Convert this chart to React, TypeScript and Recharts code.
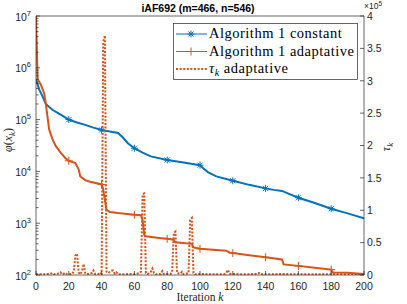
import React from 'react'
import { LineChart, Line, XAxis, YAxis, Legend } from 'recharts'

const BLUE = '#0072BD'
const ORANGE = '#D95319'
const AXIS = '#262626'
const SANS = '"Liberation Sans", Arial, sans-serif'
const SERIF = '"Liberation Serif", "Times New Roman", serif'

// iterations on the x axis
const iterTicks = [0, 20, 40, 60, 80, 100, 120, 140, 160, 180, 200]
// left axis (log) and right axis (linear, x1e5)
const phiTicks = [1e2, 1e3, 1e4, 1e5, 1e6, 1e7]
const tauTicks = [0, 50000, 100000, 150000, 200000, 250000, 300000, 350000, 400000]

// Algorithm 1 constant
const constIter = [0, 1, 2, 4, 6, 10, 14, 20, 25, 30, 35, 40, 45, 50, 53, 56, 60, 65, 70, 80, 90, 100, 102, 105, 110, 120, 130, 140, 145, 150, 155, 160, 170, 180, 190, 200]
const constPhi = [6.0e5, 4.8e5, 3.8e5, 2.8e5, 2.0e5, 1.55e5, 1.3e5, 1.0e5, 8.8e4, 7.9e4, 7.0e4, 6.3e4, 5.9e4, 5.5e4, 4.5e4, 3.5e4, 2.8e4, 2.3e4, 1.95e4, 1.66e4, 1.48e4, 1.32e4, 1.15e4, 9.6e3, 8.0e3, 6.6e3, 5.5e3, 4.7e3, 4.4e3, 4.2e3, 3.6e3, 3.1e3, 2.45e3, 1.9e3, 1.55e3, 1.25e3]

// Algorithm 1 adaptative
const adaptIter = [0, 1, 3, 5, 6, 8, 10, 12, 15, 18, 20, 24, 26, 27, 30, 33, 40, 41, 42, 43, 45, 50, 60, 64, 65, 66, 67, 75, 80, 84, 85, 95, 96, 100, 110, 116, 118, 120, 130, 140, 150, 151, 160, 170, 180, 181, 190, 200]
const adaptPhi = [1e7, 6.0e5, 4.7e5, 3.2e5, 2.0e5, 6.5e4, 4.2e4, 3.1e4, 2.3e4, 1.8e4, 1.6e4, 1.45e4, 1.1e4, 8.0e3, 6.8e3, 6.3e3, 5.6e3, 4.5e3, 2.8e3, 1.8e3, 1.65e3, 1.57e3, 1.45e3, 1.42e3, 1.15e3, 600, 560, 520, 500, 480, 430, 400, 340, 320, 305, 295, 270, 265, 240, 220, 200, 160, 150, 138, 127, 112, 110, 105]

// tau_k adaptative (right axis)
const tauIter = [0, 8, 10, 11, 14, 15, 16, 18, 19, 22, 23, 24, 25, 26, 27, 28, 29, 30, 31, 34, 35, 36, 38, 39, 40, 41, 42, 43, 44, 46, 47, 48, 49, 50, 58, 60, 63, 64, 65, 66, 67, 68, 70, 71, 72, 73, 76, 77, 78, 82, 83, 84, 85, 86, 88, 89, 90, 93, 94, 95, 96, 97, 100, 110, 115, 116, 117, 118, 125, 135, 136, 137, 150, 160, 180, 200]
const tauVal = [1000, 1500, 3000, 1000, 2500, 4000, 1000, 3500, 1000, 1500, 5000, 30000, 33000, 4000, 1000, 6000, 17000, 3000, 1000, 3000, 7000, 1500, 1500, 4000, 2000, 360000, 370000, 5000, 3000, 6500, 7000, 2000, 4000, 1000, 1500, 1000, 3000, 5000, 125000, 126000, 3000, 1500, 5000, 10000, 3000, 1000, 1500, 6000, 1500, 1500, 4000, 65000, 67000, 3000, 2000, 5000, 1000, 3000, 85000, 88000, 3000, 1000, 1500, 1000, 1500, 3000, 8000, 2000, 1000, 1500, 3000, 1000, 1500, 1000, 1000, 1000]

const constData = constIter.map((k, i) => ({ k, phi: constPhi[i] }))
const adaptData = adaptIter.map((k, i) => ({ k, phi: adaptPhi[i] }))
const tauData = tauIter.map((k, i) => ({ k, tau: tauVal[i] }))

const phiAllTicks: number[] = []
phiTicks.forEach((p) => {
  phiAllTicks.push(p)
  if (p < 1e7) for (let m = 2; m <= 9; m++) phiAllTicks.push(p * m)
})

const Star = ({ x, y, c }: { x: number; y: number; c: string }) => (
  <g stroke={c} strokeWidth={1}>
    <line x1={x - 3.5} x2={x + 3.5} y1={y} y2={y} />
    <line x1={x} x2={x} y1={y - 3.5} y2={y + 3.5} />
    <line x1={x - 2.5} x2={x + 2.5} y1={y - 2.5} y2={y + 2.5} />
    <line x1={x - 2.5} x2={x + 2.5} y1={y + 2.5} y2={y - 2.5} />
  </g>
)

const Plus = ({ x, y, c }: { x: number; y: number; c: string }) => (
  <g stroke={c} strokeWidth={1}>
    <line x1={x - 4} x2={x + 4} y1={y} y2={y} />
    <line x1={x} x2={x} y1={y - 4} y2={y + 4} />
  </g>
)

const starDot = (p: any) => {
  const { cx, cy, payload, index } = p
  if (cx == null || payload.k === 0 || payload.k === 200 || payload.k % 20 !== 0) return <g key={'s' + index} />
  return <Star key={'s' + index} x={cx} y={cy} c={BLUE} />
}

const plusDot = (p: any) => {
  const { cx, cy, payload, index } = p
  if (cx == null || payload.k === 0 || payload.k === 200 || payload.k % 20 !== 0) return <g key={'p' + index} />
  return <Plus key={'p' + index} x={cx} y={cy} c={ORANGE} />
}

const PhiTick = (props: any) => {
  const { x, y, payload } = props
  const v = payload.value
  const major = phiTicks.includes(v)
  return (
    <g>
      <line x1={x} x2={x + (major ? 4 : 2.5)} y1={y} y2={y} stroke={AXIS} strokeWidth={0.7} />
      {major && (
        <text x={x - 5} y={y + 4.5} textAnchor="end" fontSize={10.5} fontFamily={SANS} fill={AXIS}>
          10<tspan dy={-5} fontSize={7.5}>{Math.round(Math.log10(v))}</tspan>
        </text>
      )}
    </g>
  )
}

const TauTick = (props: any) => {
  const { x, y, payload } = props
  return (
    <g>
      <line x1={x} x2={x - 4} y1={y} y2={y} stroke={AXIS} strokeWidth={0.7} />
      <text x={x + 3} y={y + 3.8} textAnchor="start" fontSize={10.5} fontFamily={SANS} fill={AXIS}>
        {String(payload.value / 1e5)}
      </text>
    </g>
  )
}

const BottomTick = (props: any) => {
  const { x, y, payload } = props
  return (
    <g>
      <line x1={x} x2={x} y1={y} y2={y - 4} stroke={AXIS} strokeWidth={0.7} />
      <text x={x} y={y + 14.5} textAnchor="middle" fontSize={10.5} fontFamily={SANS} fill={AXIS}>
        {payload.value}
      </text>
    </g>
  )
}

const TopTick = (props: any) => {
  const { x, y } = props
  return <line x1={x} x2={x} y1={y} y2={y + 4} stroke={AXIS} strokeWidth={0.7} />
}

const legendRows = [
  { label: 'Algorithm 1 constant', color: BLUE, dash: undefined, mark: 'star' },
  { label: 'Algorithm 1 adaptative', color: ORANGE, dash: undefined, mark: 'plus' },
  { label: 'adaptative', color: ORANGE, dash: '2 1.6', mark: 'tau' },
]

const LegendBox = () => (
  <svg width={185} height={57} style={{ display: 'block' }}>
    <rect x={0.5} y={0.5} width={184} height={56} fill="#fff" stroke={AXIS} strokeWidth={0.7} />
    {legendRows.map((r, i) => {
      const ly = 11 + i * 17.5
      return (
        <g key={r.label}>
          <line x1={3} x2={34} y1={ly} y2={ly} stroke={r.color} strokeWidth={r.dash ? 2 : 1} strokeDasharray={r.dash} />
          {r.mark === 'star' && <Star x={18} y={ly} c={r.color} />}
          {r.mark === 'plus' && <Plus x={18} y={ly} c={r.color} />}
          <text x={36} y={ly + 4} fontSize={14.5} letterSpacing={0.5} fontFamily={SERIF} fill="#000">
            {r.mark === 'tau' ? (
              <>
                <tspan fontStyle="italic">τ</tspan>
                <tspan dy={3} fontSize={10} fontStyle="italic">k</tspan>
                <tspan dy={-3}> {r.label}</tspan>
              </>
            ) : (
              r.label
            )}
          </text>
        </g>
      )
    })}
  </svg>
)

export default function App() {
  return (
    <div style={{ position: 'absolute', left: 0, top: 0, width: 407, height: 304, background: '#fff' }}>
      <LineChart width={407} height={304} margin={{ top: 15, right: 0, bottom: 0, left: 0 }}>
        <XAxis
          dataKey="k"
          type="number"
          domain={[0, 200]}
          ticks={iterTicks}
          interval={0}
          height={29}
          tickSize={0}
          tickMargin={0}
          tick={<BottomTick />}
          axisLine={{ stroke: AXIS, strokeWidth: 0.7 }}
          allowDataOverflow
        />
        <XAxis
          xAxisId="top"
          orientation="top"
          type="number"
          domain={[0, 200]}
          ticks={iterTicks}
          interval={0}
          height={1}
          tickSize={0}
          tickMargin={0}
          tick={<TopTick />}
          axisLine={{ stroke: AXIS, strokeWidth: 0.7 }}
          allowDataOverflow
        />
        <YAxis
          yAxisId="phi"
          scale="log"
          type="number"
          domain={[1e2, 1e7]}
          ticks={phiAllTicks}
          interval={0}
          width={36}
          tickSize={0}
          tickMargin={0}
          tick={<PhiTick />}
          axisLine={{ stroke: AXIS, strokeWidth: 0.7 }}
          allowDataOverflow
        />
        <YAxis
          yAxisId="tau"
          orientation="right"
          type="number"
          domain={[0, 4e5]}
          ticks={tauTicks}
          interval={0}
          width={43}
          tickSize={0}
          tickMargin={0}
          tick={<TauTick />}
          axisLine={{ stroke: AXIS, strokeWidth: 0.7 }}
          allowDataOverflow
        />
        <Line yAxisId="phi" data={constData} dataKey="phi" type="linear" stroke={BLUE} strokeWidth={2} dot={starDot} activeDot={false} isAnimationActive={false} />
        <Line yAxisId="phi" data={adaptData} dataKey="phi" type="linear" stroke={ORANGE} strokeWidth={2} dot={plusDot} activeDot={false} isAnimationActive={false} />
        <Line yAxisId="tau" data={tauData} dataKey="tau" type="linear" stroke={ORANGE} strokeWidth={2} strokeDasharray="2 1.6" dot={false} activeDot={false} isAnimationActive={false} />
        <Legend
          verticalAlign="middle"
          align="center"
          content={() => <LegendBox />}
          wrapperStyle={{ position: 'absolute', left: 173, top: 23, width: 185, height: 57 }}
        />
        <text x={198} y={11.5} textAnchor="middle" fontSize={10.5} fontWeight="bold" fontFamily={SANS} fill="#000">
          iAF692 (m=466, n=546)
        </text>
        <text x={364} y={9} textAnchor="start" fontSize={8.5} fontFamily={SANS} fill={AXIS}>
          ×10<tspan dy={-3.5} fontSize={6.5}>5</tspan>
        </text>
        <text x={200} y={301} textAnchor="middle" fontSize={11.5} fontFamily={SERIF} fill={AXIS}>
          Iteration <tspan fontStyle="italic">k</tspan>
        </text>
        <text x={12} y={140} transform="rotate(-90 12 140)" textAnchor="middle" fontSize={12} fontFamily={SERIF} fill={AXIS}>
          <tspan fontStyle="italic">φ</tspan>(<tspan fontStyle="italic">x</tspan>
          <tspan dy={3} fontSize={9} fontStyle="italic">k</tspan>
          <tspan dy={-3}>)</tspan>
        </text>
        <text x={390} y={147} transform="rotate(-90 390 147)" textAnchor="middle" fontSize={12} fontFamily={SERIF} fill={AXIS}>
          <tspan fontStyle="italic">τ</tspan>
          <tspan dy={3} fontSize={9} fontStyle="italic">k</tspan>
        </text>
      </LineChart>
    </div>
  )
}
